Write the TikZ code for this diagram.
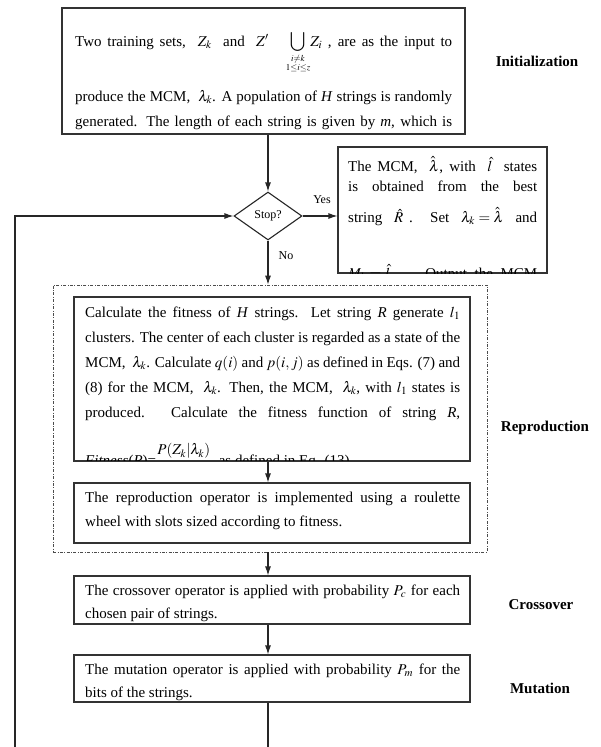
\documentclass[tikz,border=0pt]{standalone}
\usepackage{amsmath}
\usepackage{mathptmx}
\usepackage{fontspec}
\setmainfont{Liberation Serif}
\usetikzlibrary{arrows.meta,shapes.geometric}
\newcommand\jl[2]{\hbox to #1{\spaceskip=.25em plus .8em minus .1em\relax #2}}
\begin{document}
\begin{tikzpicture}[x=1pt,y=-1pt,
  bx/.style={draw=black!80, line width=1.1pt, inner sep=0pt},
  tl/.style={anchor=base west, inner sep=0pt, font=\fontsize{15}{18}\selectfont},
  lbl/.style={inner sep=0pt, font=\fontsize{15}{18}\selectfont\bfseries},
  sm/.style={inner sep=0pt, font=\fontsize{12}{14}\selectfont},
  arr/.style={draw=black!85, line width=1.1pt, -{Latex[length=9pt,width=6pt]}},
  ln/.style={draw=black!85, line width=1.1pt},
  dd/.style={draw=black!70, line width=0.7pt, dash pattern=on 3pt off 1.5pt on 0.8pt off 1.5pt, inner sep=0pt},
  dia/.style={draw=black!85, line width=1.1pt, diamond, inner sep=0pt, aspect=1.4, minimum width=68pt, minimum height=48pt, font=\fontsize{12}{14}\selectfont}]

\fill[white] (0,0) rectangle (600,747);
\useasboundingbox (0,0) rectangle (600,747);
\coordinate (axis) at (268,0);

% ---------- Initialization box ----------
\node[bx, minimum width=403pt, minimum height=126pt] (init) at (263.5,71) {};
\begin{scope}
\clip (init.south west) rectangle (init.north east);
\node[tl] (i1) at (75,46) {\jl{377pt}{Two training sets, \ $Z_k$ \ and \ $Z'$ \ \ $\displaystyle\bigcup_{\substack{\scriptscriptstyle i\neq k\\ \scriptscriptstyle 1\le i\le z}}\! Z_i$ , are as the input to}};
\node[tl] (i2) at (75,101) {\jl{377pt}{produce the MCM, \ $\lambda_k$. A population of \textit{H} strings is randomly}};
\node[tl] (i3) at (75,126) {\jl{377pt}{generated. The length of each string is given by \textit{m}, which is}};
\end{scope}
\node[lbl] (linit) at (537,61) {Initialization};

% ---------- Stop diamond ----------
\node[dia] (stop) at (268,216) {Stop?};
\draw[arr] (axis |- init.south) -- (stop.north);

% ---------- Result box ----------
\node[bx, minimum width=209pt, minimum height=126pt] (result) at (442.5,210) {};
\begin{scope}
\clip (result.south west) rectangle (result.north east);
\node[tl] (r1) at (348,171) {\jl{189pt}{The MCM, \ $\hat{\lambda}$, with \ $\hat{l}$ \ states}};
\node[tl] (r2) at (348,191) {\jl{189pt}{is obtained from the best}};
\node[tl] (r3) at (348,222) {\jl{189pt}{string \ $\hat{R}$ . \ Set \ $\lambda_k=\hat{\lambda}$ \ and}};
\node[tl] (r4) at (348,278) {\jl{189pt}{$M_k=\hat{l}$ . \ Output the MCM}};
\end{scope}
\draw[arr] (stop.east) -- (stop.east -| result.west);
\node[sm] (yes) at (322,200) {Yes};

% ---------- Reproduction group ----------
\node[dd, minimum width=434pt, minimum height=267pt] (repro) at (270,418.5) {};
\draw[arr] (stop.south) -- (axis |- repro.north);
\node[sm] (no) at (286,256) {No};

\node[bx, minimum width=396pt, minimum height=164pt] (fit) at (272,379) {};
\begin{scope}
\clip (fit.south west) rectangle (fit.north east);
\node[tl] (f1) at (85,317) {\jl{375pt}{Calculate the fitness of \textit{H} strings. Let string \textit{R} generate $l_1$}};
\node[tl] (f2) at (85,342) {\jl{375pt}{clusters. The center of each cluster is regarded as a state of the}};
\node[tl] (f3) at (85,367) {\jl{375pt}{MCM, \ $\lambda_k$. Calculate $q(i)$ and $p(i,j)$ as defined in Eqs. (7) and}};
\node[tl] (f4) at (85,392) {\jl{375pt}{(8) for the MCM, \ $\lambda_k$. Then, the MCM, \ $\lambda_k$, with $l_1$ states is}};
\node[tl] (f5) at (85,417) {\jl{375pt}{produced. Calculate the fitness function of string \textit{R},}};
\node[tl] (f6) at (85,465) {\textit{Fitness}(\textit{R})=$\dfrac{P(Z_k|\lambda_k)}{P(Z'|\lambda_k)}$ \ as defined in Eq. (13)};
\end{scope}
\draw[bx] (fit.south west) rectangle (fit.north east);

\node[bx, minimum width=396pt, minimum height=60pt] (roul) at (272,513) {};
\node[tl] (o1) at (85,502) {\jl{375pt}{The reproduction operator is implemented using a roulette}};
\node[tl] (o2) at (85,526) {wheel with slots sized according to fitness.};
\draw[arr] (axis |- fit.south) -- (axis |- roul.north);
\node[lbl] (lrep) at (545,428) {Reproduction};

% ---------- Crossover ----------
\node[bx, minimum width=396pt, minimum height=48pt] (cross) at (272,600) {};
\node[tl] (c1) at (85,595) {\jl{375pt}{The crossover operator is applied with probability $P_c$ for each}};
\node[tl] (c2) at (85,618) {chosen pair of strings.};
\draw[arr] (axis |- repro.south) -- (axis |- cross.north);
\node[lbl] (lcross) at (541,605) {Crossover};

% ---------- Mutation ----------
\node[bx, minimum width=396pt, minimum height=47pt] (mut) at (272,678.5) {};
\node[tl] (m1) at (85,674) {\jl{375pt}{The mutation operator is applied with probability $P_m$ for the}};
\node[tl] (m2) at (85,697) {bits of the strings.};
\draw[arr] (axis |- cross.south) -- (axis |- mut.north);
\node[lbl] (lmut) at (540,688) {Mutation};

% ---------- loose ends and feedback ----------
\coordinate (bend) at (268,747);
\draw[ln] (axis |- mut.south) -- (bend);
\coordinate (fbstart) at (15,747);
\draw[arr] (fbstart) -- (fbstart |- stop.west) -- (stop.west);
\end{tikzpicture}
\end{document}
